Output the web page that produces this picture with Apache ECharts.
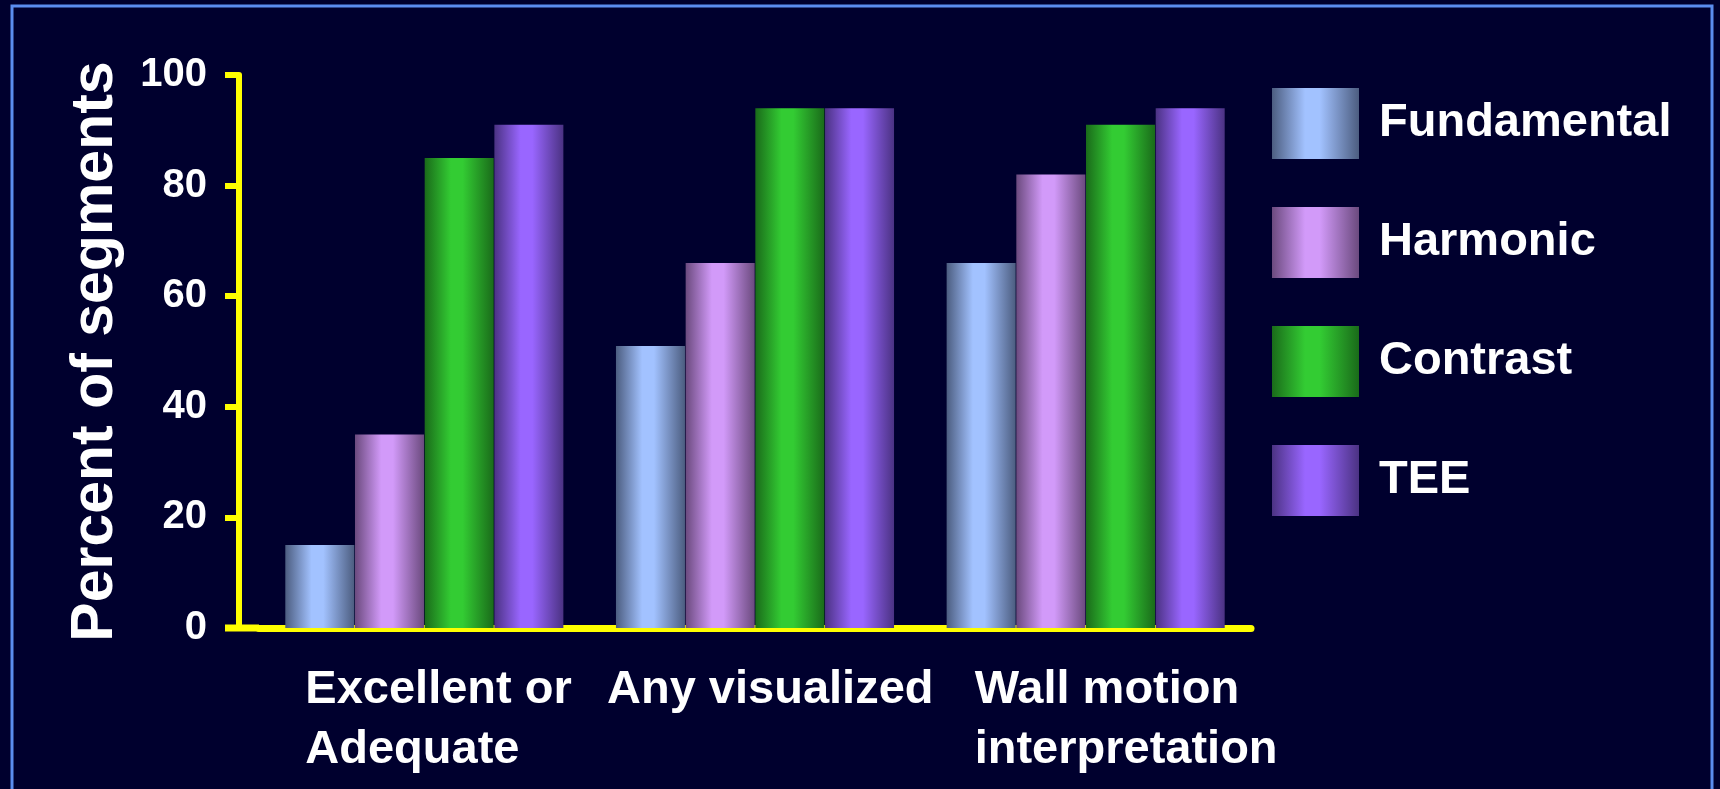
<!DOCTYPE html>
<html>
<head>
<meta charset="utf-8">
<script src="https://cdn.jsdelivr.net/npm/echarts@6/dist/echarts.min.js"></script>
<style>
  html, body { margin: 0; padding: 0; background: #00002e; }
  #chart { width: 1720px; height: 789px; }
</style>
</head>
<body>
<div id="chart"></div>
<script>
const categories = ['Excellent or\nAdequate', 'Any visualized', 'Wall motion\ninterpretation'];
const seriesNames = ['Fundamental', 'Harmonic', 'Contrast', 'TEE'];
const fundamental = [15, 51, 66];
const harmonic = [35, 66, 82];
const contrast = [85, 94, 91];
const tee = [91, 94, 94];
const yTicks = [0, 20, 40, 60, 80, 100];

// edge / highlight colours for the cylinder look
const shades = [
    ['#4c5d80', '#a2c2ff'],
    ['#6b4a7e', '#d29af9'],
    ['#1a6b1a', '#33cc33'],
    ['#4b3283', '#9966ff']
];
const values = [fundamental, harmonic, contrast, tee];

function grad(c) {
    return new echarts.graphic.LinearGradient(0, 0, 1, 0, [
        {offset: 0, color: c[0]},
        {offset: 0.38, color: c[1]},
        {offset: 0.55, color: c[1]},
        {offset: 1, color: c[0]}
    ]);
}

const font = '"Liberation Sans", Arial, sans-serif';
const labelStyles = ['a', 'b', 'c'];
const lbl = {align: 'left', color: '#fff', fontSize: 47, fontWeight: 'bold', fontFamily: font, lineHeight: 60};
const yOffset = 20;

const chart = echarts.init(document.getElementById('chart'));
chart.setOption({
    backgroundColor: '#00002e',
    animation: false,
    graphic: [{
        type: 'rect',
        shape: {x: 12, y: 6, width: 1700, height: 830},
        style: {fill: 'none', stroke: '#5b8def', lineWidth: 3}
    }],
    legend: {
        orient: 'vertical',
        left: 1267,
        top: 83,
        itemWidth: 87,
        itemHeight: 71,
        itemGap: 48,
        icon: 'rect',
        data: seriesNames,
        textStyle: {
            color: '#fff', fontSize: 47, fontWeight: 'bold', fontFamily: font,
            padding: [0, 0, 0, 15]
        }
    },
    grid: {left: 259, top: 75, width: 992, height: 553},
    xAxis: {
        type: 'category',
        data: categories,
        axisLine: {lineStyle: {color: '#ffff00', width: 7}},
        axisTick: {show: false},
        axisLabel: {
            margin: 32,
            interval: 0,
            formatter: function (v, i) {
                const k = labelStyles[i];
                return v.split('\n').map(s => '{' + k + '|' + s + '}').join('\n');
            },
            rich: {
                a: Object.assign({width: 238}, lbl),
                b: Object.assign({width: 296}, lbl),
                c: Object.assign({width: 222}, lbl)
            }
        }
    },
    yAxis: {
        type: 'value',
        min: yTicks[0],
        max: yTicks[yTicks.length - 1],
        interval: 20,
        offset: yOffset,
        name: 'Percent of segments',
        nameLocation: 'middle',
        nameGap: 114,
        nameTextStyle: {color: '#fff', fontSize: 59, fontWeight: 'bold', fontFamily: font},
        axisLine: {show: true, lineStyle: {color: '#ffff00', width: 6}},
        axisTick: {show: true, length: 14, lineStyle: {color: '#ffff00', width: 6}},
        splitLine: {show: false},
        axisLabel: {
            margin: 32,
            color: '#fff', fontSize: 40, fontWeight: 'bold', fontFamily: font
        }
    },
    series: seriesNames.map((name, i) => ({
        name: name,
        type: 'bar',
        barWidth: 69,
        barGap: '1%',
        data: values[i],
        itemStyle: {color: grad(shades[i])}
    }))
});

// carry the x axis line left to the shifted y axis, as in the slide
const gridRect = chart.getModel().getComponent('grid').coordinateSystem.getRect();
const zeroY = chart.convertToPixel({yAxisIndex: 0}, 0);
chart.setOption({
    graphic: [{
        type: 'rect',
        shape: {x: 12, y: 6, width: 1700, height: 830},
        style: {fill: 'none', stroke: '#5b8def', lineWidth: 3}
    }, {
        type: 'line',
        shape: {x1: gridRect.x - yOffset - 14, y1: zeroY, x2: gridRect.x, y2: zeroY},
        style: {stroke: '#ffff00', lineWidth: 7}
    }]
});
</script>
</body>
</html>
